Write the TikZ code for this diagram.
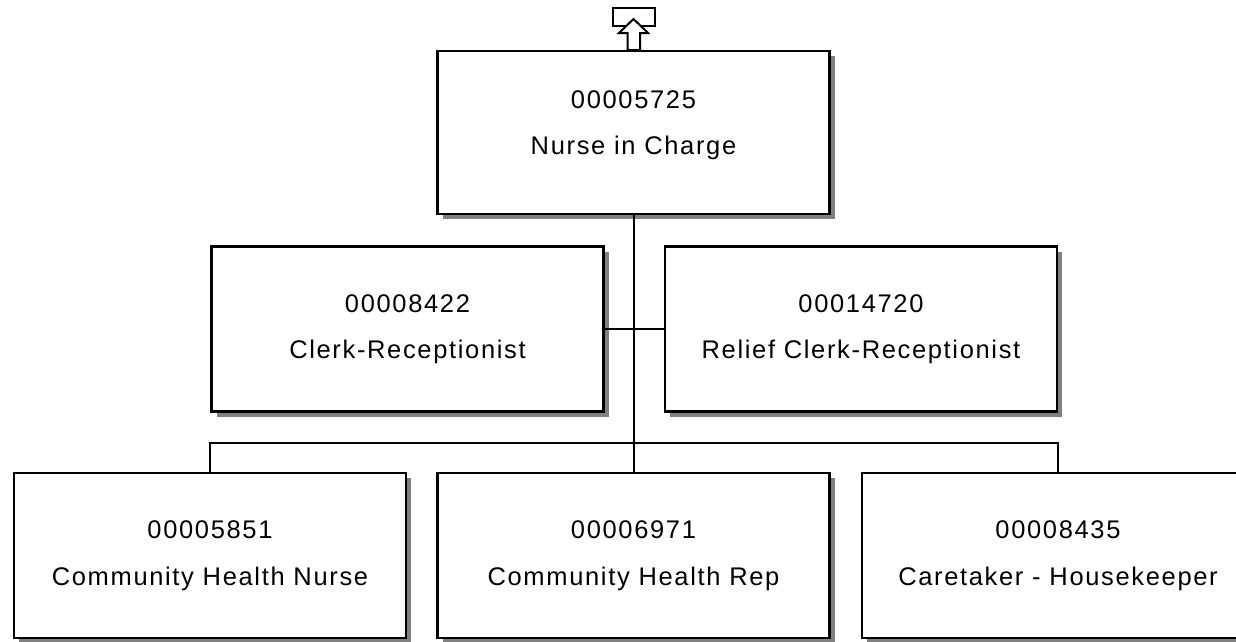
\documentclass[tikz,border=0pt]{standalone}
\usepackage{fontspec}
\setmainfont{Liberation Sans}[LetterSpace=6.5]
\usetikzlibrary{shadows}
\begin{document}
\begin{tikzpicture}[x=1pt,y=-1pt,
  posbox/.style={draw=black, line width=2.5pt, fill=white, rectangle,
    minimum width=392pt, minimum height=165pt, inner sep=0pt,
    align=center, font=\fontsize{25.5}{46.7}\selectfont,
    drop shadow={shadow xshift=5pt, shadow yshift=-5pt, fill=black!50, opacity=1}},
  link/.style={draw=black, line width=2pt}]
\useasboundingbox (0,0) rectangle (1236,641);
\coordinate (j) at (633.5,443);
\node[posbox, minimum height=163pt, text depth=20pt] (top) at (633.5,132.5) {00005725\\Nurse in Charge};
\draw[link] (top.south) -- (j);
\node[posbox] (clerk) at (407.5,329.2) {00008422\\Clerk-Receptionist};
\node[posbox] (relief) at (861,329.2) {00014720\\Relief Clerk-Receptionist};
\draw[link] (clerk.east) -- (relief.west);
\node[posbox] (b1) at (210,555.5) {00005851\\Community Health Nurse};
\node[posbox] (b2) at (633.5,555.5) {00006971\\Community Health Rep};
\node[posbox] (b3) at (1058,555.5) {00008435\\Caretaker - Housekeeper};
\draw[link] (b1.north) |- (j) -| (b3.north);
\draw[link] (j) -- (b2.north);
% top marker
\draw[line width=2pt, fill=white] (613,8) rectangle (655,26);
\draw[line width=2pt, fill=white, line join=miter]
  (627.5,50) -- (627.5,33) -- (619,33) -- (633.5,19) -- (648,33) -- (640,33) -- (640,50) -- cycle;
\end{tikzpicture}
\end{document}
